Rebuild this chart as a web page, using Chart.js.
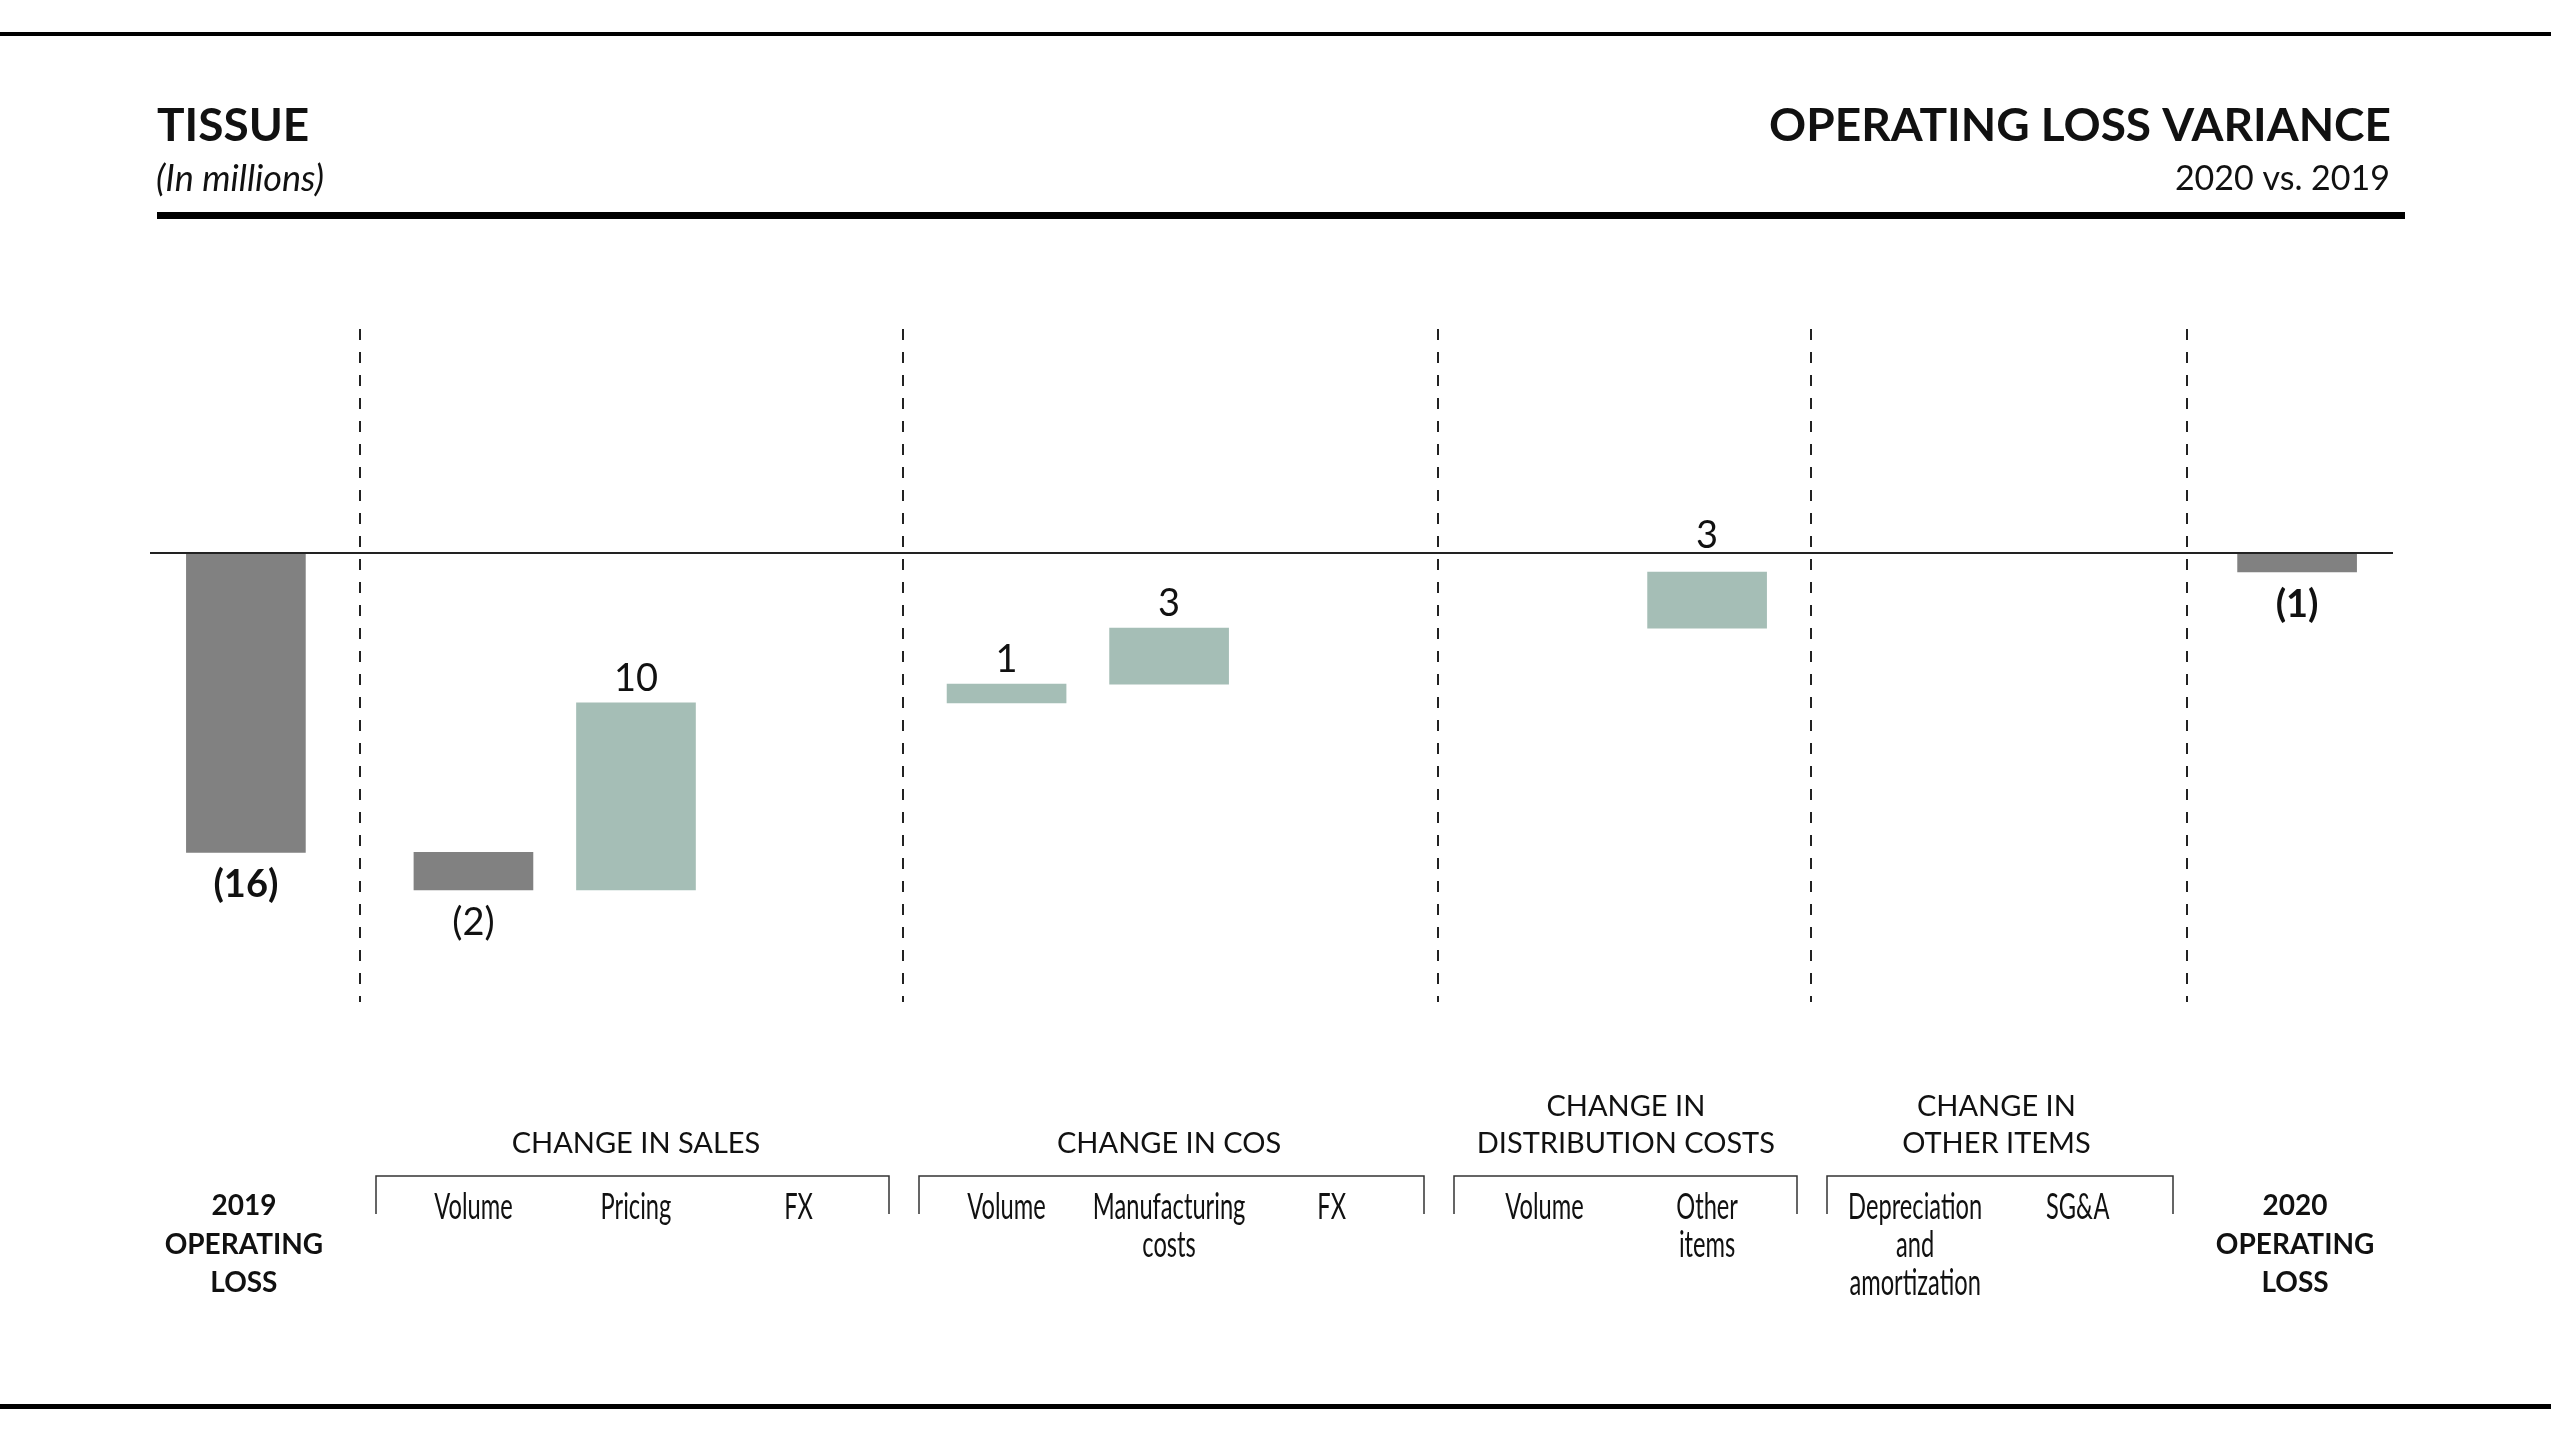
<!DOCTYPE html>
<html lang="en">
<head>
  <meta charset="UTF-8" />
  <title>Tissue - Operating Loss Variance 2020 vs. 2019</title>
  <style>
    body { margin: 0; background: #fff; }
    #wrap { width: 2551px; height: 1434px; }
  </style>
</head>
<body>
  <div id="wrap"><canvas id="variance" width="2551" height="1434"></canvas></div>

  <script src="https://cdn.jsdelivr.net/npm/chart.js"></script>
  <script>
    // ---- data (in millions) ----
    const categories = [
      ['2019', 'OPERATING', 'LOSS'],
      ['Volume'], ['Pricing'], ['FX'],
      ['Volume'], ['Manufacturing', 'costs'], ['FX'],
      ['Volume'], ['Other', 'items'],
      ['Depreciation', 'and', 'amortization'], ['SG&A'],
      ['2020', 'OPERATING', 'LOSS']
    ];
    // which group each category sits in (-1 = opening / closing total)
    const groupOf = [-1, 0, 0, 0, 1, 1, 1, 2, 2, 3, 3, -1];
    const groupLabels = [
      ['CHANGE IN SALES'],
      ['CHANGE IN COS'],
      ['CHANGE IN', 'DISTRIBUTION COSTS'],
      ['CHANGE IN', 'OTHER ITEMS']
    ];
    const isTotal = [true, false, false, false, false, false, false, false, false, false, false, true];
    const values = [-16, -2, 10, 0, 1, 3, 0, 0, 3, 0, 0, -1];

    const yMin = -24;
    const yMax = 12;

    // ---- colours / layout ----
    const GRAY = '#818181';
    const SAGE = '#a5beb6';
    const INK = '#111';
    const GAPS = [1.4, 1.28, 1.31, 1.28, 1.35]; // spacing across each group boundary
    const EDGE = 0.59;
    const NARROW = 0.64;     // horizontal squeeze for the item labels

    // x positions: 1 unit between items of a group, a wider step across groups
    const positions = [];
    let boundary = 0;
    groupOf.forEach((g, i) => {
      if (i === 0) { positions.push(0); return; }
      const step = g !== groupOf[i - 1] ? GAPS[boundary++] : 1;
      positions.push(positions[i - 1] + step);
    });

    // floating bars: totals hang from zero, changes continue from the running total
    let running = 0;
    const bars = values.map((v, i) => {
      if (isTotal[i]) { running = v; return { x: positions[i], y: [0, v] }; }
      if (v === 0) return { x: positions[i], y: null };
      const seg = [running, running + v];
      running += v;
      return { x: positions[i], y: seg };
    });

    const fmt = v => v < 0 ? '(' + (-v) + ')' : String(v);

    const decor = {
      id: 'decor',
      beforeDraw(chart) {
        const { ctx, width } = chart;
        ctx.save();
        ctx.fillStyle = '#fff';
        ctx.fillRect(0, 0, chart.width, chart.height);

        // rules
        ctx.fillStyle = '#000';
        ctx.fillRect(0, 32, width, 4);
        ctx.fillRect(157, 212, 2248, 7);
        ctx.fillRect(0, 1404, width, 5);

        // header texts
        ctx.fillStyle = INK;
        ctx.textBaseline = 'alphabetic';
        ctx.font = 'bold 46px Lato';
        ctx.textAlign = 'left';
        ctx.fillText('TISSUE', 157, 141);
        ctx.textAlign = 'right';
        ctx.fillText('OPERATING LOSS VARIANCE', 2391, 141);
        ctx.font = 'italic 36px Lato';
        ctx.textAlign = 'left';
        ctx.fillText('(In millions)', 156, 191);
        ctx.font = '34px Lato';
        ctx.textAlign = 'right';
        ctx.fillText('2020 vs. 2019', 2390, 190);

        // dashed separators between the groups
        const xs = chart.scales.x;
        const { top, bottom } = chart.chartArea;
        ctx.strokeStyle = '#222';
        ctx.lineWidth = 2;
        ctx.setLineDash([11, 12]);
        this._seps = [];
        for (let i = 1; i < groupOf.length; i++) {
          if (groupOf[i] === groupOf[i - 1]) continue;
          const sx = Math.round(xs.getPixelForValue((positions[i - 1] + positions[i]) / 2));
          this._seps.push(sx);
          ctx.beginPath();
          ctx.moveTo(sx, top);
          ctx.lineTo(sx, bottom);
          ctx.stroke();
        }
        ctx.restore();
      },
      afterDatasetsDraw(chart) {
        const { ctx, chartArea } = chart;
        const xs = chart.scales.x;
        const zeroY = Math.round(chart.scales.y.getPixelForValue(0));
        ctx.save();

        // zero line
        ctx.strokeStyle = '#222';
        ctx.lineWidth = 2;
        ctx.beginPath();
        ctx.moveTo(chartArea.left, zeroY);
        ctx.lineTo(chartArea.right, zeroY);
        ctx.stroke();

        // value labels
        const meta = chart.getDatasetMeta(0);
        ctx.fillStyle = INK;
        ctx.textAlign = 'center';
        ctx.textBaseline = 'alphabetic';
        meta.data.forEach((bar, i) => {
          const v = values[i];
          if (!v) return;
          const top = Math.min(bar.y, bar.base);
          const bottom = Math.max(bar.y, bar.base);
          ctx.font = (isTotal[i] ? 'bold ' : '') + '38px Lato';
          if (v < 0) {
            ctx.fillText(fmt(v), bar.x, bottom + 45);
          } else {
            let yb = top - 12;
            if (yb - 30 < zeroY && yb + 4 > zeroY) yb = zeroY - 5;
            ctx.fillText(fmt(v), bar.x, yb);
          }
        });

        // category labels under the axis, placed by the x scale
        categories.forEach((lines, i) => {
          const px = xs.getPixelForValue(positions[i]);
          lines.forEach((t, k) => {
            if (isTotal[i]) {
              ctx.font = 'bold 28px Lato';
              ctx.fillText(t, px - 2, 1215 + k * 38.5);
            } else {
              ctx.save();
              ctx.translate(px, 1219 + k * 38);
              ctx.scale(NARROW, 1);
              ctx.font = '37px Lato';
              ctx.fillText(t, 0, 0);
              ctx.restore();
            }
          });
        });

        // group brackets and headings
        const seps = this._seps || [];
        ctx.strokeStyle = '#333';
        ctx.lineWidth = 1.5;
        ctx.font = '29px Lato';
        groupLabels.forEach((lines, g) => {
          const idx = groupOf.map((v, i) => v === g ? i : -1).filter(i => i >= 0);
          const x0 = seps[g] + 16;
          const x1 = seps[g + 1] - 14;
          ctx.beginPath();
          ctx.moveTo(x0, 1214);
          ctx.lineTo(x0, 1176);
          ctx.lineTo(x1, 1176);
          ctx.lineTo(x1, 1214);
          ctx.stroke();

          const cx = (xs.getPixelForValue(positions[idx[0]]) + xs.getPixelForValue(positions[idx[idx.length - 1]])) / 2;
          lines.forEach((t, k) => {
            ctx.fillText(t, cx, 1153 - (lines.length - 1 - k) * 37);
          });
        });
        ctx.restore();
      }
    };

    new Chart(document.getElementById('variance'), {
      type: 'bar',
      data: {
        datasets: [{
          data: bars,
          backgroundColor: values.map(v => v < 0 ? GRAY : SAGE),
          borderWidth: 0,
          barThickness: 119
        }]
      },
      options: {
        responsive: false,
        animation: false,
        events: [],
        layout: { padding: { left: 150, right: 158, top: 329, bottom: 0 } },
        plugins: {
          legend: { display: false },
          tooltip: { enabled: false }
        },
        scales: {
          x: {
            type: 'linear',
            offset: false,
            min: positions[0] - EDGE,
            max: positions[positions.length - 1] + EDGE,
            grid: { display: false, drawTicks: false },
            border: { display: false },
            afterBuildTicks: scale => { scale.ticks = positions.map(v => ({ value: v })); },
            afterFit: scale => { scale.height = 432; },
            ticks: { display: false }
          },
          y: {
            display: false,
            min: yMin,
            max: yMax
          }
        }
      },
      plugins: [decor]
    });
  </script>
</body>
</html>
